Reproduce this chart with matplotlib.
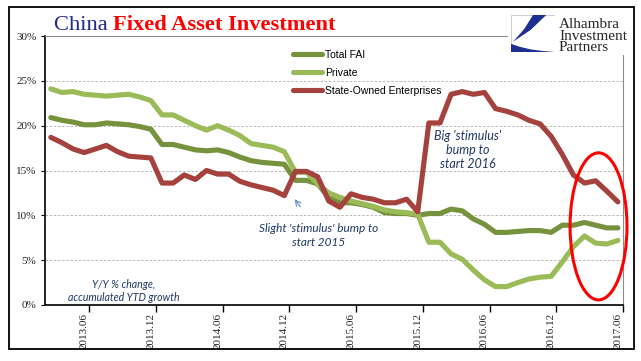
import matplotlib
matplotlib.use('Agg')
import numpy as np
import matplotlib.pyplot as plt
from matplotlib.patches import Ellipse, Rectangle, Polygon

# monthly YTD y/y growth, 2013.03 - 2017.06 (Jan filled from Jan-Feb figure)
months = [f"{y}.{m:02d}" for y in range(2013, 2018) for m in range(1, 13)]
months = months[months.index('2013.03'):months.index('2017.06') + 1]

total_fai = [20.9, 20.6, 20.4, 20.1, 20.1, 20.3, 20.2, 20.1, 19.9, 19.6,
             17.9, 17.9, 17.6, 17.3, 17.2, 17.3, 17.0, 16.5, 16.1, 15.9, 15.8, 15.7,
             13.9, 13.9, 13.5, 12.0, 11.4, 11.4, 11.2, 10.9, 10.3, 10.2, 10.2, 10.0,
             10.2, 10.2, 10.7, 10.5, 9.6, 9.0, 8.1, 8.1, 8.2, 8.3, 8.3, 8.1,
             8.9, 8.9, 9.2, 8.9, 8.6, 8.6]
private = [24.1, 23.7, 23.8, 23.5, 23.4, 23.3, 23.4, 23.5, 23.2, 22.8,
           21.2, 21.2, 20.6, 20.0, 19.5, 20.0, 19.5, 18.9, 18.0, 17.8, 17.6, 17.1,
           14.8, 14.8, 13.5, 12.5, 12.0, 11.6, 11.3, 11.0, 10.6, 10.4, 10.3, 10.1,
           7.0, 7.0, 5.7, 5.1, 3.9, 2.8, 2.05, 2.05, 2.5, 2.9, 3.1, 3.2,
           4.8, 6.5, 7.7, 6.9, 6.8, 7.2]
soe = [18.7, 18.1, 17.4, 17.0, 17.4, 17.8, 17.1, 16.6, 16.5, 16.4,
       13.6, 13.6, 14.5, 14.0, 15.0, 14.6, 14.6, 13.8, 13.4, 13.1, 12.8, 12.2,
       14.9, 14.9, 14.3, 11.6, 10.9, 12.4, 12.0, 11.8, 11.4, 11.4, 11.8, 10.4,
       20.3, 20.3, 23.5, 23.8, 23.5, 23.7, 21.9, 21.6, 21.2, 20.6, 20.2, 18.8,
       16.8, 14.5, 13.6, 13.85, 12.7, 11.5]

series_names = ['Total FAI', 'Private', 'State-Owned Enterprises']
series_colors = ['#76923c', '#9bbb59', '#a5423e']
tick_labels = ['2013.06', '2013.12', '2014.06', '2014.12', '2015.06',
               '2015.12', '2016.06', '2016.12', '2017.06']

W, H = 641, 361
fig = plt.figure(figsize=(W / 100, H / 100), dpi=100)

# plot area in pixels: left 44.7, right 623, top 36, bottom 305
ax = fig.add_axes([44.7 / W, (H - 305) / H, (623 - 44.7) / W, (305 - 36) / H])

x = np.arange(len(months))
for vals, name, col in zip([total_fai, private, soe], series_names, series_colors):
    ax.plot(x, vals, color=col, lw=3.7, solid_capstyle='round',
            solid_joinstyle='round', label=name, zorder=3)

ax.set_xlim(-0.55, len(months) - 1 + 0.46)
ax.set_ylim(0, 30)

ax.set_yticks(range(0, 31, 5))
ax.set_yticklabels([f'{v}%' for v in range(0, 31, 5)])
ax.yaxis.grid(True, ls=(0, (3, 2)), color='#b0b0b0', lw=0.6)
ax.set_axisbelow(True)

pos = [months.index(t) for t in tick_labels]
ax.set_xticks(pos)
ax.set_xticklabels(tick_labels, rotation=90)
ax.set_xticks([p + 0.46 for p in pos], minor=True)
ax.tick_params(axis='x', which='major', length=0, pad=6)
ax.tick_params(axis='x', which='minor', length=5, width=1, direction='out', color='black')
ax.tick_params(axis='y', length=3, width=0.8, pad=3)
for lab in ax.get_xticklabels() + ax.get_yticklabels():
    lab.set_family('Liberation Serif')
    lab.set_fontsize(8)
    lab.set_color('#222222')

ax.spines['left'].set_color('black')
ax.spines['left'].set_linewidth(1.2)
ax.spines['bottom'].set_color('black')
ax.spines['bottom'].set_linewidth(1.2)
ax.spines['top'].set_color('#8c8c8c')
ax.spines['top'].set_linewidth(0.8)
ax.spines['right'].set_color('#8c8c8c')
ax.spines['right'].set_linewidth(0.8)

ax.legend(loc='upper left', bbox_to_anchor=(293 / W, 1 - 50 / H),
          bbox_transform=fig.transFigure, frameon=False,
          prop={'family': 'Liberation Sans', 'size': 7.5},
          handlelength=2.8, handletextpad=0.25, labelspacing=0.75,
          borderpad=0, borderaxespad=0)

# annotations
note_col = '#1f3864'
fig.text(468 / W, 1 - 150 / H, "Big 'stimulus'\nbump to\nstart 2016", ha='center', va='center',
         family='Lato', style='italic', size=9, color=note_col, linespacing=1.25)
fig.text(318.5 / W, 1 - 235.5 / H, "Slight 'stimulus' bump to\nstart 2015", ha='center', va='center',
         family='Lato', style='italic', size=8.5, color=note_col, linespacing=1.3)
fig.text(123.5 / W, 1 - 291 / H, "Y/Y % change,\naccumulated YTD growth", ha='center', va='center',
         family='Lato', style='italic', size=7.6, color=note_col, linespacing=1.2)
ax.annotate('', xy=(293, H - 197), xycoords='figure pixels',
            xytext=(302, H - 209), textcoords='figure pixels',
            arrowprops=dict(arrowstyle='->', color='#5b8bd0', lw=0.8))

# red ellipse round the latest months
ax.add_patch(Ellipse((49.26, 8.77), 5.12, 16.4, fill=False, ec='#ff0000',
                     lw=2.2, clip_on=False, zorder=6))

# title
t1 = fig.text(54 / W, 1 - 29.5 / H, 'China ', family='Liberation Serif', size=16.2,
              color='#1f2a8c', va='baseline')
fig.canvas.draw()
bb = t1.get_window_extent()
fig.text(bb.x1 / W, 1 - 29.5 / H, 'Fixed Asset Investment', family='Liberation Serif',
         size=16.2, weight='bold', color='#ff0000', va='baseline')

# white box behind the logo, hiding the frame corner
fig.patches.append(Rectangle((508 / W, 1 - 55 / H), 124 / W, 47 / H,
                             transform=fig.transFigure, fc='white', ec='none', zorder=1))

# logo
lax = fig.add_axes([511 / W, 1 - 52 / H, 44 / W, 37 / H], zorder=2)
lax.set_xlim(0, 1)
lax.set_ylim(0, 1)
lax.axis('off')
lax.add_patch(Rectangle((0, 0), 1, 1, fc='white', ec='#c8c8c8', lw=0.6))
blue = '#1d2f8f'
lax.add_patch(Polygon([(0.5, 1), (0.8, 1), (0.45, 0.6), (0.05, 0.28), (0.3, 0.62)],
                      closed=True, fc=blue, ec='none'))
lax.add_patch(Polygon([(0, 0), (0, 0.22), (0.2, 0.14), (0.45, 0.07), (0.7, 0.03), (1, 0)],
                      closed=True, fc=blue, ec='none'))
for i, word in enumerate(['Alhambra', 'Investment', 'Partners']):
    fig.text(559 / W, 1 - (28 + 11.5 * i) / H, word, family='Liberation Serif', size=11,
             color='#262626', va='baseline', zorder=3)

# outer frame
fig.patches.append(Rectangle((9 / W, 1 - 349 / H), 625 / W, 342 / H,
                             transform=fig.transFigure, fill=False, ec='black', lw=1.3, zorder=4))

fig.savefig('out.png', dpi=100)
